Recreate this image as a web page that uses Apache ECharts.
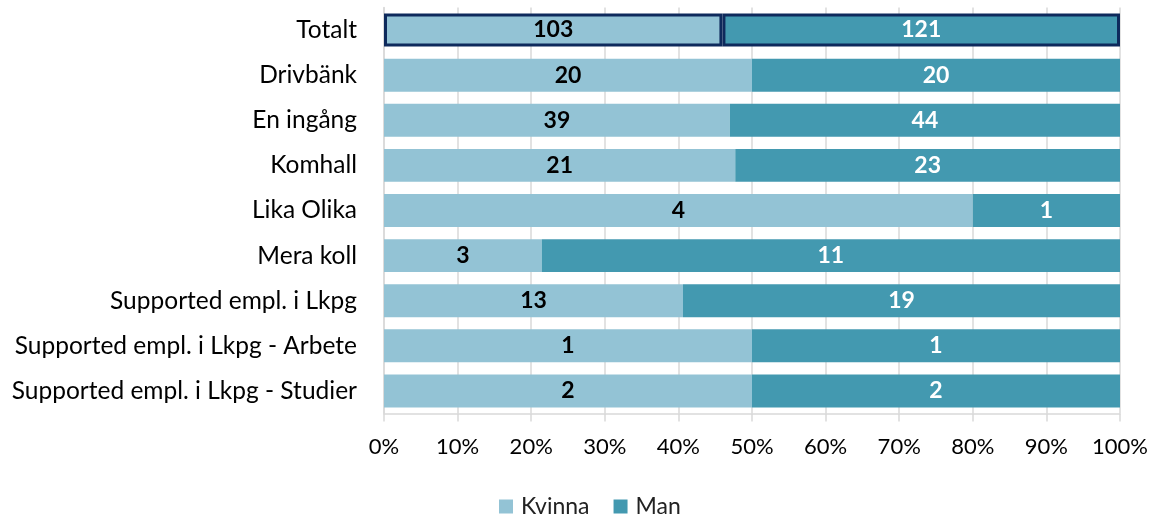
<!DOCTYPE html>
<html>
<head>
<meta charset="utf-8">
<script src="https://cdn.jsdelivr.net/npm/echarts@6/dist/echarts.min.js"></script>
<style>
html,body{margin:0;padding:0;background:#fff;}
#chart{width:1154px;height:516px;}
</style>
</head>
<body>
<div id="chart"></div>
<script>
const categories = ["Totalt","Drivbänk","En ingång","Komhall","Lika Olika","Mera koll","Supported empl. i Lkpg","Supported empl. i Lkpg - Arbete","Supported empl. i Lkpg - Studier"];
const kvinna = [103,20,39,21,4,3,13,1,2];
const man = [121,20,44,23,1,11,19,1,2];
const tickLabels = ["0%","10%","20%","30%","40%","50%","60%","70%","80%","90%","100%"];

const FONT = "Lato, 'Open Sans', sans-serif";
const C_K = "#93C3D5", C_M = "#4399B0", BORDER = "#0E2A5C";

function mk(vals, color, labelColor, name) {
  return {
    name: name, type: "bar", stack: "s", barCategoryGap: "27%",
    data: vals.map((v, i) => {
      const pct = v / (kvinna[i] + man[i]) * 100;
      const d = { value: pct, raw: v };
      if (i === 0) d.itemStyle = { color: color, borderColor: BORDER, borderWidth: 3 };
      return d;
    }),
    itemStyle: { color: color },
    label: {
      show: true, position: "inside", color: labelColor, fontFamily: FONT,
      fontWeight: "bold", fontSize: 23,
      formatter: p => String(p.data.raw)
    }
  };
}

const chart = echarts.init(document.getElementById("chart"));
chart.setOption({
  animation: false,
  grid: { left: 384, right: 34, top: 7.5, bottom: 102.5 },
  legend: {
    top: 495, left: 499, itemWidth: 14, itemHeight: 14, itemGap: 24,
    icon: "rect", padding: 0,
    textStyle: { fontFamily: FONT, fontSize: 23, color: "#222", padding: [0, 0, 0, 3] },
    data: ["Kvinna", "Man"]
  },
  xAxis: {
    type: "value", min: 0, max: 100, interval: 10,
    axisLine: { show: true, lineStyle: { color: "#d9d9d9", width: 1.5 } },
    axisTick: { show: true, length: 8, lineStyle: { color: "#d9d9d9", width: 1.5 } },
    splitLine: { show: true, lineStyle: { color: "#d9d9d9", width: 1.5 } },
    axisLabel: { formatter: v => tickLabels[Math.round(v / 10)], fontFamily: FONT, fontSize: 22, color: "#000", margin: 22 }
  },
  yAxis: {
    type: "category", data: categories, inverse: true,
    axisLine: { show: true, lineStyle: { color: "#d9d9d9", width: 1.5 } },
    axisTick: { show: false },
    axisLabel: { fontFamily: FONT, fontSize: 24.5, color: "#000", margin: 27 }
  },
  series: [mk(kvinna, C_K, "#000", "Kvinna"), mk(man, C_M, "#fff", "Man")]
});
</script>
</body>
</html>
